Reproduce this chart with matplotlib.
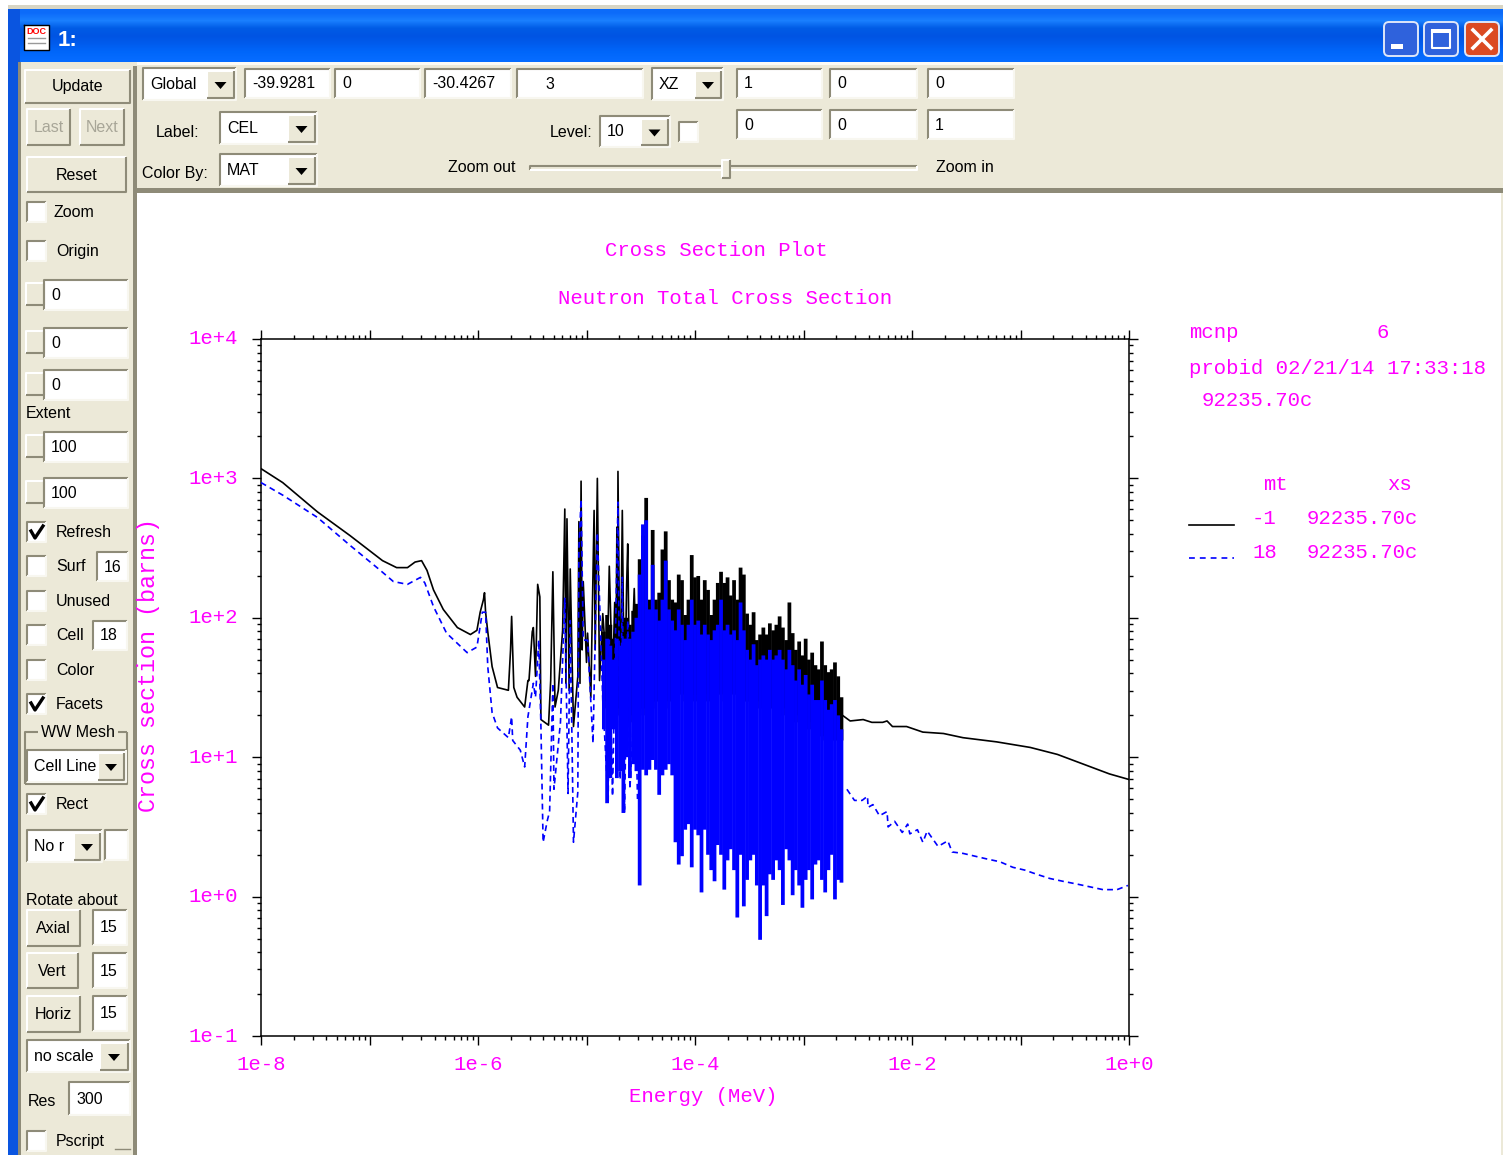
import numpy as np
import matplotlib
matplotlib.use('Agg')
import matplotlib.pyplot as plt
from matplotlib.patches import Rectangle, FancyBboxPatch, Polygon
from matplotlib.ticker import LogLocator, NullFormatter

# all curves, as log10(MeV) and log10(barns)
total_log_e = [-8.00, -7.80, -7.48, -7.18, -6.88, -6.75, -6.65, -6.58, -6.52, -6.47,
               -6.41, -6.32, -6.19, -6.07, -6.01, -5.98, -5.95, -5.94, -5.93, -5.91,
               -5.87, -5.82, -5.72, -5.70, -5.69, -5.67, -5.64, -5.57, -5.54, -5.53,
               -5.50, -5.49, -5.47, -5.45, -5.43, -5.42, -5.35, -5.33, -5.31, -5.29,
               -5.26, -5.22, -5.20, -5.19, -5.18, -5.16, -5.15, -5.12, -5.08, -5.07,
               -5.06, -5.05, -5.04, -5.03, -5.00, -4.99, -4.96, -4.93, -4.92, -4.90,
               -4.88, -4.85, -4.81, -4.79, -4.76, -4.74, -4.73, -4.72, -4.715, -4.71,
               -4.69, -4.67, -4.65, -4.63, -4.62, -4.60, -4.56, -4.53]
total_log_xs = [3.07, 2.97, 2.76, 2.59, 2.41, 2.36, 2.36, 2.40, 2.41, 2.34,
                2.20, 2.06, 1.93, 1.88, 1.91, 2.04, 2.13, 2.18, 2.04, 1.90,
                1.65, 1.50, 1.48, 1.77, 2.01, 1.50, 1.43, 1.36, 1.55, 1.55,
                1.90, 1.93, 1.58, 2.24, 2.15, 1.27, 1.23, 1.55, 2.33, 1.36,
                1.48, 1.91, 2.78, 1.53, 2.71, 1.48, 2.35, 1.22, 1.58, 2.69,
                1.53, 2.98, 1.77, 2.26, 1.68, 1.89, 1.43, 2.77, 1.77, 3.00,
                1.55, 2.03, 1.58, 2.37, 1.53, 2.11, 1.53, 2.65, 1.48, 3.05,
                1.39, 2.77, 1.29, 2.24, 2.53, 1.34, 2.21, 1.32]

fission_log_e = [-8.00, -7.80, -7.48, -7.18, -6.90, -6.78, -6.65, -6.53, -6.49, -6.41,
                 -6.29, -6.10, -6.01, -5.96, -5.93, -5.91, -5.87, -5.82, -5.72, -5.69,
                 -5.68, -5.61, -5.57, -5.54, -5.49, -5.47, -5.44, -5.42, -5.40, -5.36,
                 -5.34, -5.31, -5.30, -5.24, -5.20, -5.17, -5.15, -5.12, -5.08, -5.07,
                 -5.05, -5.03, -4.99, -4.94, -4.90, -4.85, -4.80, -4.79, -4.76, -4.72,
                 -4.71, -4.69, -4.67, -4.65, -4.62, -4.60, -4.55, -4.53]
fission_log_xs = [2.97, 2.88, 2.72, 2.52, 2.34, 2.26, 2.24, 2.29, 2.25, 2.08,
                  1.89, 1.75, 1.79, 2.04, 2.04, 1.65, 1.32, 1.21, 1.14, 1.29,
                  1.12, 1.05, 0.93, 1.29, 1.53, 1.43, 1.84, 1.22, 0.39, 0.55,
                  0.61, 1.53, 0.77, 1.25, 2.14, 0.74, 1.98, 0.39, 0.75, 2.49,
                  2.85, 1.84, 1.84, 1.10, 2.61, 1.41, 0.67, 1.84, 0.72, 2.42,
                  2.83, 0.84, 2.29, 0.60, 1.98, 0.77, 1.55, 0.70]

# resonance forest, top and bottom of each spike
forest_log_e = [-4.84, -4.81, -4.78, -4.75, -4.72, -4.69, -4.66, -4.63, -4.60, -4.57, -4.54,
                -4.51, -4.48, -4.45, -4.42, -4.39, -4.36, -4.33, -4.30, -4.27, -4.24,
                -4.21, -4.18, -4.15, -4.12, -4.09, -4.06, -4.03, -4.00, -3.97, -3.94,
                -3.91, -3.88, -3.85, -3.82, -3.79, -3.76, -3.73, -3.70, -3.67, -3.64,
                -3.61, -3.58, -3.55, -3.52, -3.49, -3.46, -3.43, -3.40, -3.37, -3.34,
                -3.31, -3.28, -3.25, -3.22, -3.19, -3.16, -3.13, -3.10, -3.07, -3.04,
                -3.01, -2.98, -2.95, -2.92, -2.89, -2.86, -2.83, -2.80, -2.77, -2.74,
                -2.71, -2.68, -2.65]
forest_total_top = [1.90, 2.02, 1.95, 1.85, 1.95, 1.90, 2.00, 2.00, 1.95, 2.05, 2.10,
                    2.42, 2.59, 2.86, 2.13, 2.63, 2.13, 2.18, 2.49, 2.62, 2.27,
                    2.13, 2.11, 2.31, 2.27, 2.02, 2.13, 2.45, 2.29, 2.30, 2.13,
                    2.27, 2.20, 2.02, 2.13, 2.25, 2.33, 2.25, 2.29, 2.16, 2.27,
                    2.13, 2.36, 2.31, 2.03, 1.95, 2.04, 1.84, 1.88, 1.93, 1.88,
                    1.96, 1.91, 1.95, 2.01, 1.93, 1.84, 2.11, 1.89, 1.77, 1.83,
                    1.73, 1.85, 1.70, 1.75, 1.66, 1.63, 1.83, 1.66, 1.61, 1.63,
                    1.68, 1.58, 1.43]
forest_total_bot = [1.40, 1.35, 1.40, 1.35, 1.35, 1.30, 1.30, 1.30, 1.25, 1.30, 1.25,
                    1.30, 1.35, 1.30, 1.40, 1.35, 1.40, 1.40, 1.35, 1.35, 1.40,
                    1.40, 1.40, 1.45, 1.45, 1.40, 1.45, 1.45, 1.40, 1.45, 1.45,
                    1.45, 1.40, 1.45, 1.45, 1.45, 1.45, 1.40, 1.45, 1.45, 1.45,
                    1.45, 1.45, 1.40, 1.40, 1.40, 1.40, 1.40, 1.35, 1.40, 1.40,
                    1.35, 1.35, 1.40, 1.35, 1.30, 1.35, 1.30, 1.30, 1.25, 1.30,
                    1.25, 1.25, 1.20, 1.25, 1.20, 1.15, 1.15, 1.12, 1.15, 1.12,
                    1.12, 1.12, 1.12]
forest_fission_top = [1.70, 1.85, 1.80, 1.70, 1.85, 1.80, 1.85, 1.85, 1.85, 1.90, 2.00,
                      2.31, 2.67, 2.70, 2.06, 2.38, 2.06, 1.98, 2.13, 2.41, 2.06,
                      1.98, 1.91, 2.06, 1.95, 1.84, 1.95, 2.13, 1.95, 1.98, 1.88,
                      1.95, 1.88, 1.84, 1.91, 1.95, 2.13, 1.91, 1.95, 1.88, 1.91,
                      1.84, 2.11, 1.91, 1.77, 1.70, 1.81, 1.66, 1.70, 1.73, 1.70,
                      1.77, 1.70, 1.73, 1.77, 1.70, 1.63, 1.77, 1.66, 1.55, 1.63,
                      1.52, 1.59, 1.45, 1.52, 1.41, 1.41, 1.55, 1.41, 1.34, 1.38,
                      1.41, 1.30, 1.20]
forest_fission_bot = [1.20, 0.67, 0.85, 1.20, 0.85, 0.90, 0.60, 1.00, 0.85, 0.95, 0.90,
                      0.08, 0.91, 0.87, 0.91, 0.98, 0.91, 0.73, 0.87, 0.91, 0.95,
                      0.87, 0.39, 0.23, 0.29, 0.48, 0.52, 0.21, 0.48, 0.44, 0.03,
                      0.48, 0.30, 0.19, 0.11, 0.37, 0.30, 0.05, 0.26, 0.34, 0.19,
                      -0.15, 0.30, -0.07, 0.12, 0.26, 0.30, 0.08, -0.31, 0.08, -0.14,
                      0.16, 0.12, 0.26, 0.19, -0.06, 0.34, 0.26, 0.01, 0.19, 0.08,
                      -0.08, 0.12, 0.19, -0.02, 0.23, 0.26, 0.12, 0.03, 0.19, 0.30,
                      -0.02, 0.12, 0.10]

total_tail_log_e = [-2.64, -2.57, -2.45, -2.37, -2.27, -2.23, -2.18, -2.05, -1.90, -1.71,
                    -1.53, -1.22, -0.91, -0.66, -0.42, -0.18, 0.00]
total_tail_log_xs = [1.30, 1.26, 1.27, 1.25, 1.25, 1.26, 1.22, 1.22, 1.18, 1.17,
                     1.14, 1.11, 1.07, 1.02, 0.95, 0.88, 0.84]
fission_tail_log_e = [-2.60, -2.53, -2.46, -2.41, -2.405, -2.36, -2.30, -2.23, -2.22, -2.16,
                      -2.09, -2.04, -2.02, -1.95, -1.90, -1.86, -1.76, -1.67, -1.63, -1.53,
                      -1.42, -1.31, -1.19, -1.07, -0.96, -0.85, -0.73, -0.61, -0.48, -0.36,
                      -0.24, -0.11, -0.01]
fission_tail_log_xs = [0.77, 0.69, 0.69, 0.72, 0.64, 0.66, 0.58, 0.61, 0.50, 0.54,
                       0.46, 0.52, 0.45, 0.48, 0.39, 0.47, 0.36, 0.40, 0.32, 0.31,
                       0.29, 0.27, 0.25, 0.21, 0.19, 0.16, 0.13, 0.11, 0.09, 0.07,
                       0.05, 0.05, 0.08]

x_ticks = [1e-8, 1e-7, 1e-6, 1e-5, 1e-4, 1e-3, 1e-2, 1e-1, 1e0]
x_labels = ['1e-8', '', '1e-6', '', '1e-4', '', '1e-2', '', '1e+0']
y_ticks = [1e-1, 1e0, 1e1, 1e2, 1e3, 1e4]
y_labels = ['1e-1', '1e+0', '1e+1', '1e+2', '1e+3', '1e+4']

BEIGE = '#ECE9D8'
DARK = '#8E8B78'
MAGENTA = '#FF00FF'
UI = 'Liberation Sans'
MONO = 'Liberation Mono'

W, H = 1503, 1155
fig = plt.figure(figsize=(W / 100, H / 100), dpi=100, facecolor='white')

# window furniture, in screen pixels
ui = fig.add_axes([0, 0, 1, 1], zorder=0)

grad = np.array([[0.05, 0.42, 0.98], [0.10, 0.50, 1.0], [0.0, 0.36, 0.90], [0.0, 0.33, 0.89],
                 [0.0, 0.36, 0.93], [0.0, 0.40, 0.98], [0.02, 0.42, 1.0]])[:, None, :]
ui.imshow(grad, extent=(8, W, 63, 9), aspect='auto', interpolation='bilinear', zorder=1)
ui.set_xlim(0, W)
ui.set_ylim(H, 0)
ui.axis('off')


def rect(x0, y0, x1, y1, color, z=2):
    ui.add_patch(Rectangle((x0, y0), x1 - x0, y1 - y0, fc=color, ec='none', zorder=z))


def edges(x0, y0, x1, y1, tl, br, z=4):
    ui.plot([x0, x0, x1], [y1, y0, y0], color=tl, lw=1.5, zorder=z, solid_capstyle='butt')
    ui.plot([x0, x1, x1], [y1, y1, y0], color=br, lw=1.5, zorder=z, solid_capstyle='butt')


def label(x, y, s, color='black', ha='left', size=11.5, **kw):
    ui.text(x, y + 1.5, s, color=color, ha=ha, va='center', fontsize=size, family=UI, zorder=6, **kw)


def button(x0, y0, x1, y1, s, color='black'):
    rect(x0, y0, x1, y1, BEIGE, 3)
    edges(x0, y0, x1, y1, '#FFFFFF', DARK)
    label((x0 + x1) / 2, (y0 + y1) / 2 - 1, s, color=color, ha='center')


def entry(x0, y0, x1, y1, s=''):
    rect(x0, y0, x1, y1, 'white', 3)
    edges(x0, y0, x1, y1, DARK, '#F8F7F0')
    if s:
        label(x0 + 7, (y0 + y1) / 2 - 1, s)


def combo(x0, y0, x1, y1, s, bx):
    entry(x0, y0, x1, y1, s)
    rect(bx, y0 + 3, x1 - 2, y1 - 2, BEIGE, 4)
    edges(bx, y0 + 3, x1 - 2, y1 - 2, '#FFFFFF', DARK, 5)
    cx, cy = (bx + x1 - 2) / 2, (y0 + y1) / 2 + 1
    ui.add_patch(Polygon([[cx - 6, cy - 3], [cx + 6, cy - 3], [cx, cy + 4]], fc='black', ec='none', zorder=6))


def check(y, s, on=False, tx=56):
    entry(27, y - 10, 46, y + 10)
    if on:
        ui.plot([31, 35, 43], [y - 1, y + 6, y - 6], color='black', lw=2.4, zorder=6)
    label(tx, y - 1, s)


rect(8, 5, W, 9, '#D8D5C4', 1)
rect(8, 9, 20, H, '#0A55E0', 1)
rect(18, 62, W, H, BEIGE, 2)
rect(18, 62, 21, H, '#8E8B78', 2)
rect(136, 193, W - 2, H, 'white', 3)
rect(133, 66, 137, H, DARK, 3)
rect(133, 188, W, 193, DARK, 3)
rect(137, 62, W, 65, '#FBFAF5', 3)

# title bar
rect(24, 25, 49, 50, 'white', 3)
ui.plot([24, 49, 49, 24, 24], [25, 25, 50, 50, 25], color='black', lw=1, zorder=4)
ui.text(36.5, 31, 'DOC', color='red', fontsize=6.5, ha='center', va='center', family=UI, weight='bold', zorder=5)
ui.plot([28, 45], [38, 38], color='#999999', lw=1, zorder=5)
ui.plot([28, 45], [43, 43], color='#999999', lw=1, zorder=5)
ui.text(58, 40, '1:', color='white', fontsize=16, va='center', family=UI, weight='bold', zorder=5)
for x0, col in [(1383, '#2F62DC'), (1423, '#2F62DC'), (1464, '#DB4A22')]:
    ui.add_patch(FancyBboxPatch((x0 + 2, 23), 32, 32, boxstyle='round,pad=1,rounding_size=5',
                                fc=col, ec='#DDE6F8', lw=1.4, zorder=4))
rect(1391, 44, 1403, 49, 'white', 5)
ui.plot([1432, 1450, 1450, 1432, 1432], [31, 31, 48, 48, 31], color='white', lw=1.5, zorder=5)
rect(1431, 29, 1451, 33, 'white', 5)
ui.plot([1473, 1491], [30, 48], color='white', lw=2.6, zorder=5)
ui.plot([1473, 1491], [48, 30], color='white', lw=2.6, zorder=5)

# left column
button(25, 70, 130, 103, 'Update')
button(27, 109, 70, 145, 'Last', color='#A8A698')
button(80, 109, 124, 145, 'Next', color='#A8A698')
button(27, 157, 126, 192, 'Reset')
check(212, 'Zoom', tx=54)
check(251, 'Origin')
for y0, s in [(280, '0'), (328, '0'), (370, '0'), (432, '100'), (478, '100')]:
    rect(26, y0 + 3, 44, y0 + 25, BEIGE, 3)
    edges(26, y0 + 3, 44, y0 + 25, '#FFFFFF', DARK)
    entry(44, y0, 128, y0 + 30, s)
label(26, 412, 'Extent')
check(532, 'Refresh', on=True)
check(566, 'Surf')
entry(97, 552, 128, 581, '16')
check(601, 'Unused')
check(635, 'Cell')
entry(93, 621, 127, 650, '18')
check(670, 'Color')
check(704, 'Facets', on=True)
edges(25, 732, 127, 784, DARK, DARK, 3)
rect(38, 724, 118, 740, BEIGE, 3)
label(78, 731, 'WW Mesh', ha='center')
combo(27, 750, 126, 782, 'Cell Line', 98)
check(804, 'Rect', on=True)
combo(27, 830, 102, 862, 'No r', 74)
entry(105, 830, 128, 860)
label(26, 899, 'Rotate about')
button(27, 910, 80, 946, 'Axial')
entry(93, 910, 127, 945, '15')
button(27, 953, 78, 988, 'Vert')
entry(93, 953, 127, 988, '15')
button(27, 996, 80, 1032, 'Horiz')
entry(93, 996, 127, 1031, '15')
combo(27, 1040, 130, 1072, 'no scale', 100)
label(28, 1100, 'Res')
entry(69, 1082, 130, 1115, '300')
check(1141, 'Pscript')
ui.plot([115, 130], [1149, 1149], color=DARK, lw=1, zorder=5)

# top toolbar
combo(143, 68, 236, 100, 'Global', 207)
entry(245, 69, 330, 98, '-39.9281')
entry(335, 69, 420, 98, '0')
entry(425, 69, 511, 98, '-30.4267')
entry(517, 69, 643, 98)
label(545, 83, '3')
combo(652, 68, 723, 100, 'XZ', 695)
entry(737, 69, 822, 98, '1')
entry(830, 69, 917, 98, '0')
entry(928, 69, 1014, 98, '0')
label(156, 131, 'Label:')
combo(220, 112, 317, 144, 'CEL', 288)
label(550, 131, 'Level:')
combo(600, 116, 670, 147, '10', 641)
entry(679, 122, 698, 142)
entry(737, 110, 822, 139, '0')
entry(830, 110, 917, 139, '0')
entry(928, 110, 1014, 139, '1')
label(142, 172, 'Color By:')
combo(220, 154, 317, 186, 'MAT', 288)
label(448, 166, 'Zoom out')
edges(530, 166, 917, 170, DARK, '#FFFFFF', 3)
rect(722, 160, 730, 178, BEIGE, 5)
edges(722, 160, 730, 178, '#FFFFFF', DARK, 6)
label(936, 166, 'Zoom in')


def mono(x, y, s, ha='left', size=14.9, **kw):
    ui.text(x, y, s, color=MAGENTA, ha=ha, va='center', fontsize=size, family=MONO, zorder=6, **kw)


mono(716, 250, 'Cross Section Plot', ha='center')
mono(725, 299, 'Neutron Total Cross Section', ha='center')
mono(703, 1096, 'Energy (MeV)', ha='center')
mono(149, 665, 'Cross section (barns)', ha='center', size=16.8, rotation=90)
mono(1189, 332, 'mcnp')
mono(1376, 332, '6')
mono(1189, 368, 'probid 02/21/14 17:33:18')
mono(1202, 401, '92235.70c')
mono(1263, 484, 'mt')
mono(1387, 484, 'xs')
mono(1252, 518, '-1')
mono(1307, 518, '92235.70c')
mono(1252, 552, '18')
mono(1307, 552, '92235.70c')
ui.plot([1189, 1234], [525, 525], color='black', lw=1.2, zorder=6)
ui.plot([1189, 1234], [558, 558], color='blue', lw=1.2, ls=(0, (3.5, 3)), zorder=6)

# the plot itself
ax = fig.add_axes([261 / W, 1 - 1036 / H, 868 / W, 697 / H], zorder=1)
ax.patch.set_alpha(0)
ax.set_xscale('log')
ax.set_yscale('log')

ax.vlines(10 ** np.array(forest_log_e), 10 ** np.array(forest_total_bot), 10 ** np.array(forest_total_top),
          color='black', lw=2.7, zorder=2, snap=False)
ax.plot(10 ** np.array(total_log_e), 10 ** np.array(total_log_xs), color='black', lw=1.2, zorder=2)
ax.plot(10 ** np.array(total_tail_log_e), 10 ** np.array(total_tail_log_xs), color='black', lw=1.2, zorder=2)

ax.vlines(10 ** np.array(forest_log_e), 10 ** np.array(forest_fission_bot), 10 ** np.array(forest_fission_top),
          color='blue', lw=2.7, zorder=3, snap=False)
ax.plot(10 ** np.array(fission_log_e), 10 ** np.array(fission_log_xs), color='blue', lw=1.2,
        ls=(0, (3.5, 2.5)), zorder=3)
ax.plot(10 ** np.array(fission_tail_log_e), 10 ** np.array(fission_tail_log_xs), color='blue', lw=1.2,
        ls=(0, (3.5, 2.5)), zorder=3)

ax.set_xlim(1e-8, 1e0)
ax.set_ylim(1e-1, 1e4)
ax.set_xticks(x_ticks, x_labels)
ax.set_yticks(y_ticks, y_labels)
for axis in (ax.xaxis, ax.yaxis):
    axis.set_minor_locator(LogLocator(base=10, subs=(2, 3, 4, 5, 6, 7, 8, 9), numticks=100))
    axis.set_minor_formatter(NullFormatter())
ax.tick_params(which='major', direction='out', length=6.5, width=1, top=True, right=True,
               labelsize=14.9, labelcolor=MAGENTA, pad=7)
ax.tick_params(which='minor', direction='out', length=3, width=1, top=True, right=True)
for t in ax.get_xticklabels() + ax.get_yticklabels():
    t.set_family(MONO)
for t in ax.get_yticklabels():
    t.set_verticalalignment('center')
ax.tick_params(axis='y', which='major', pad=10)
for s in ax.spines.values():
    s.set_linewidth(1.1)

fig.savefig('out.png', dpi=100, facecolor='white')
